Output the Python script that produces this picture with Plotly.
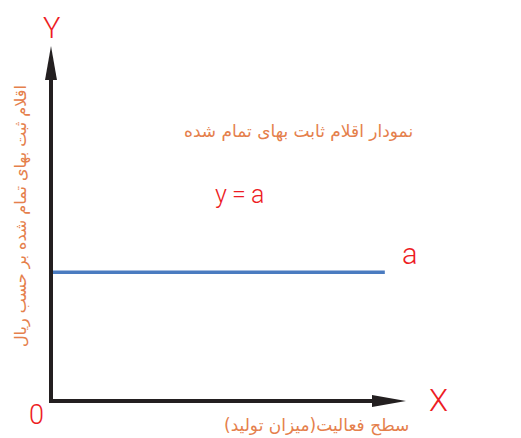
import plotly.graph_objects as go

# ── data ────────────────────────────────────────────────
activity = [0, 9.43]          # level of activity (x)
fixed_cost = [3.64, 3.64]     # constant total fixed cost, y = a

W, H = 521, 438
L, R, T, B = 51, 116, 47, 37   # plot area = axes box
PW, PH = W - L - R, H - T - B

RED = "#ED1C24"
ORANGE = "#E5804C"
BLUE = "#4A7BC0"
INK = "#231F20"


def px(x, y):
    """pixel -> paper coords"""
    return (x - L) / PW, (H - B - y) / PH


def path(points):
    s = ""
    for i, (x, y) in enumerate(points):
        xp, yp = px(x, y)
        s += ("M" if i == 0 else "L") + f"{xp:.4f},{yp:.4f} "
    return s + "Z"


fig = go.Figure()
fig.add_trace(go.Scatter(x=activity, y=fixed_cost, mode="lines",
                         line=dict(color=BLUE, width=3.5),
                         hoverinfo="skip", showlegend=False))

shapes = []
# axis shafts
x0, y0 = px(51, 403)
x1, y1 = px(51, 78)
shapes.append(dict(type="line", xref="paper", yref="paper", x0=x0, y0=y0, x1=x1, y1=y1,
                   line=dict(color=INK, width=4)))
x0, y0 = px(49, 401)
x1, y1 = px(374, 401)
shapes.append(dict(type="line", xref="paper", yref="paper", x0=x0, y0=y0, x1=x1, y1=y1,
                   line=dict(color=INK, width=4)))
# arrow heads
shapes.append(dict(type="path", xref="paper", yref="paper",
                   path=path([(45, 80), (51, 46), (57, 80)]),
                   fillcolor=INK, line=dict(width=0)))
shapes.append(dict(type="path", xref="paper", yref="paper",
                   path=path([(372, 395), (406, 401), (372, 407)]),
                   fillcolor=INK, line=dict(width=0)))


def label(text, x, y, size, color, family, angle=0, weight=None):
    xp, yp = px(x, y)
    f = dict(size=size, color=color, family=family)
    if weight:
        f["weight"] = weight
    return dict(text=text, x=xp, y=yp, xref="paper", yref="paper", showarrow=False,
                xanchor="center", yanchor="middle", textangle=angle, font=f)


latin = "Roboto"
arab = "DejaVu Sans"
annotations = [
    label("Y", 51, 28, 29, RED, latin, weight=300),
    label("X", 438, 400, 31, RED, latin, weight=300),
    label("0", 36, 415, 27, RED, latin, weight=300),
    label("a", 410, 254, 29, RED, latin, weight=300),
    label("y\u2009=\u2009a", 239, 194, 25, RED, latin, weight=300),
    label("نمودار اقلام ثابت بهای تمام شده", 298, 131, 17, ORANGE, arab),
    label("سطح فعالیت(میزان تولید)", 316, 425, 17, ORANGE, arab),
    label("اقلام ثبت بهای تمام شده بر حسب ریال", 21, 216, 16, ORANGE, arab, angle=-90),
]

fig.update_layout(
    width=W, height=H,
    margin=dict(l=L, r=R, t=T, b=B),
    paper_bgcolor="white", plot_bgcolor="white",
    xaxis=dict(range=[0, 10], visible=False, fixedrange=True),
    yaxis=dict(range=[0, 10], visible=False, fixedrange=True),
    shapes=shapes, annotations=annotations,
)

fig.write_html("out.html", config={"displayModeBar": False},
               post_script="document.body.style.margin='0';")
